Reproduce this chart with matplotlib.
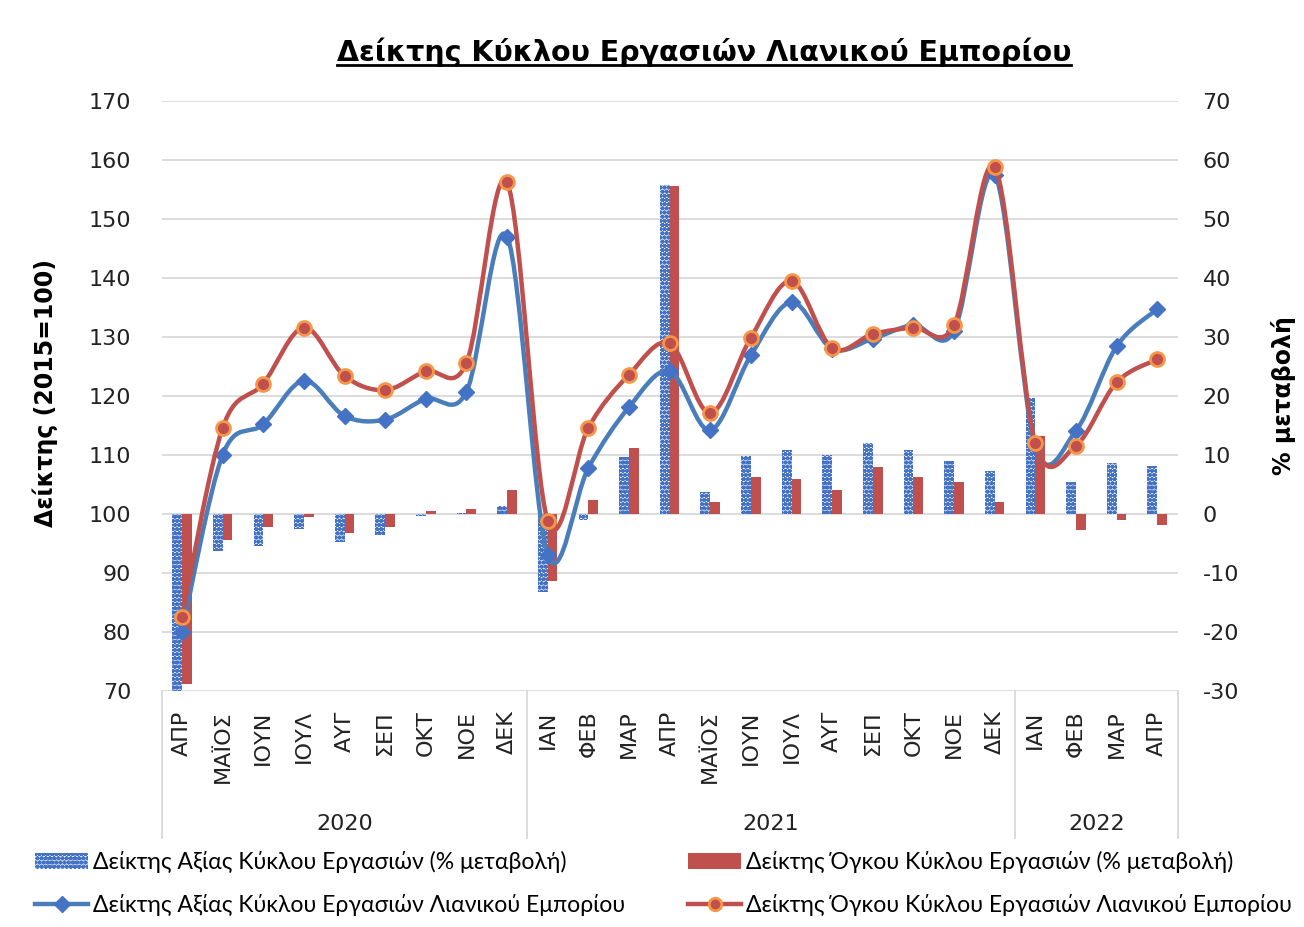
import numpy as np
import matplotlib
matplotlib.use("Agg")
import matplotlib.pyplot as plt
from matplotlib.path import Path
from matplotlib.patches import PathPatch, Patch
from matplotlib.lines import Line2D
import matplotlib.transforms as mtransforms

## the data
months = ['ΑΠΡ', 'ΜΑΪΟΣ', 'ΙΟΥΝ', 'ΙΟΥΛ', 'ΑΥΓ', 'ΣΕΠ', 'ΟΚΤ', 'ΝΟΕ', 'ΔΕΚ',
          'ΙΑΝ', 'ΦΕΒ', 'ΜΑΡ', 'ΑΠΡ', 'ΜΑΪΟΣ', 'ΙΟΥΝ', 'ΙΟΥΛ', 'ΑΥΓ', 'ΣΕΠ',
          'ΟΚΤ', 'ΝΟΕ', 'ΔΕΚ',
          'ΙΑΝ', 'ΦΕΒ', 'ΜΑΡ', 'ΑΠΡ']
years = ['2020', '2021', '2022']
year_counts = [9, 12, 4]

value_index = [80.0, 110.0, 115.2, 122.6, 116.6, 116.0, 119.5, 120.7, 147.0,
               93.1, 107.8, 118.1, 124.2, 114.2, 126.9, 135.9, 128.0, 129.7,
               132.0, 131.0, 157.5,
               111.5, 114.1, 128.4, 134.7]
volume_index = [82.6, 114.6, 122.1, 131.6, 123.4, 121.0, 124.2, 125.6, 156.2,
                98.8, 114.6, 123.6, 128.9, 117.1, 129.9, 139.5, 128.1, 130.5,
                131.6, 132.0, 158.8,
                112.0, 111.6, 122.3, 126.2]
value_pct = [-30.0, -6.3, -5.5, -2.6, -4.8, -3.6, -0.4, 0.2, 1.3,
             -13.2, -1.0, 9.6, 55.8, 3.8, 9.8, 10.8, 10.0, 12.1,
             10.8, 8.9, 7.3,
             19.7, 5.5, 8.7, 8.2]
volume_pct = [-28.8, -4.4, -2.2, -0.5, -3.3, -2.2, 0.5, 0.9, 4.0,
              -11.3, 2.4, 11.2, 55.6, 2.0, 6.3, 5.9, 4.0, 7.9,
              6.3, 5.4, 2.0,
              13.3, -2.8, -1.0, -1.9]

BLUE = '#4472C4'
BLUE_LINE = '#4A7EBB'
RED = '#C0504D'
ORANGE = '#F79646'
GRID = '#D9D9D9'

plt.rcParams['font.family'] = ['DejaVu Sans']
plt.rcParams['hatch.linewidth'] = 1.6
plt.rcParams['axes.unicode_minus'] = False


def smooth_path(x, y):
    # excel-like smoothed line (catmull-rom as cubic bezier)
    pts = np.column_stack([x, y]).astype(float)
    n = len(pts)
    verts = [pts[0]]
    codes = [Path.MOVETO]
    for i in range(n - 1):
        p0 = pts[i - 1] if i > 0 else pts[i]
        p1 = pts[i]
        p2 = pts[i + 1]
        p3 = pts[i + 2] if i + 2 < n else pts[i + 1]
        c1 = p1 + (p2 - p0) / 6.0
        c2 = p2 - (p3 - p1) / 6.0
        verts += [c1, c2, p2]
        codes += [Path.CURVE4] * 3
    return Path(verts, codes)


fig = plt.figure(figsize=(13.04, 9.27), dpi=100)
ax = fig.add_axes([0.124, 0.2546, 0.779, 0.6365])
ax2 = ax.twinx()

ind = np.arange(len(months))
width = 0.24

# bars on the secondary axis (% change)
ax2.bar(ind - width / 2, value_pct, width, facecolor='white', edgecolor=BLUE,
        hatch='oooo', linewidth=0, zorder=2)
ax2.bar(ind + width / 2, volume_pct, width, color=RED, linewidth=0, zorder=2)
ax2.set_ylim(-30, 70)
ax2.set_yticks(np.arange(-30, 71, 10))

# lines on the primary axis
ax.set_zorder(ax2.get_zorder() + 1)
ax.patch.set_visible(False)
ax.add_patch(PathPatch(smooth_path(ind, value_index), facecolor='none',
                       edgecolor=BLUE_LINE, linewidth=3.2, zorder=3,
                       capstyle='round', joinstyle='round'))
ax.plot(ind, value_index, linestyle='none', marker='D', markersize=8.5,
        color=BLUE, zorder=4)
ax.add_patch(PathPatch(smooth_path(ind, volume_index), facecolor='none',
                       edgecolor=RED, linewidth=3.2, zorder=5,
                       capstyle='round', joinstyle='round'))
ax.plot(ind, volume_index, linestyle='none', marker='o', markersize=10,
        markerfacecolor=RED, markeredgecolor=ORANGE, markeredgewidth=2,
        zorder=6)

ax.set_xlim(-0.5, len(months) - 0.5)
ax.set_ylim(70, 170)
ax.set_yticks(np.arange(70, 171, 10))
ax2.set_xlim(-0.5, len(months) - 0.5)

# grid lines
for v in np.arange(-30, 71, 10):
    ax2.axhline(v, color=GRID, linewidth=1.3, zorder=0)

for a in (ax, ax2):
    for s in a.spines.values():
        s.set_visible(False)
    a.tick_params(length=0, labelsize=16, colors='#222222')

ax.tick_params(axis='y', pad=22)
ax2.tick_params(axis='y', pad=18)

ax.set_xticks(ind)
ax.set_xticklabels(months, rotation=90, fontsize=16)
ax.tick_params(axis='x', pad=14)

# multi-level category axis
trans = mtransforms.blended_transform_factory(ax.transData, ax.transAxes)
bounds = np.concatenate([[0], np.cumsum(year_counts)]) - 0.5
for b in bounds:
    ax.plot([b, b], [0, -0.249], transform=trans, color=GRID, linewidth=1.3,
            clip_on=False)
for i, yr in enumerate(years):
    ax.text((bounds[i] + bounds[i + 1]) / 2, -0.225, yr, transform=trans,
            ha='center', va='center', fontsize=16, color='#222222')

# axis titles
fig.text(0.035, 0.576, 'Δείκτης (2015=100)', rotation=90, ha='center',
         va='center', fontsize=17, fontweight='bold')
fig.text(0.984, 0.573, '% μεταβολή', rotation=90, ha='center', va='center',
         fontsize=17, fontweight='bold')

title = fig.text(0.540, 0.944, 'Δείκτης Κύκλου Εργασιών Λιανικού Εμπορίου',
                 ha='center', va='center', fontsize=20.5, fontweight='bold')

## add a legend
handles = [
    Patch(facecolor='white', edgecolor=BLUE, hatch='oooo', linewidth=0),
    Line2D([], [], color=BLUE_LINE, linewidth=3.2, marker='D', markersize=8,
           markerfacecolor=BLUE, markeredgecolor=BLUE),
    Patch(facecolor=RED, linewidth=0),
    Line2D([], [], color=RED, linewidth=3.2, marker='o', markersize=9,
           markerfacecolor=RED, markeredgecolor=ORANGE, markeredgewidth=2),
]
labels = ['Δείκτης Αξίας Κύκλου Εργασιών (% μεταβολή)',
          'Δείκτης Αξίας Κύκλου Εργασιών Λιανικού Εμπορίου',
          'Δείκτης Όγκου Κύκλου Εργασιών (% μεταβολή)',
          'Δείκτης Όγκου Κύκλου Εργασιών Λιανικού Εμπορίου']
fig.legend(handles, labels, ncol=2, loc='upper left',
           bbox_to_anchor=(0.020, 0.092), frameon=False,
           prop={'family': 'Lato', 'size': 16.6}, handlelength=2.3,
           handletextpad=0.2, columnspacing=2.75, labelspacing=0.9,
           borderaxespad=0)

# underline the title
fig.canvas.draw()
bb = title.get_window_extent().transformed(fig.transFigure.inverted())
fig.add_artist(Line2D([bb.x0, bb.x1], [bb.y0 + 0.002, bb.y0 + 0.002],
                      transform=fig.transFigure, color='black', linewidth=2))

fig.savefig('out.png', dpi=100)
